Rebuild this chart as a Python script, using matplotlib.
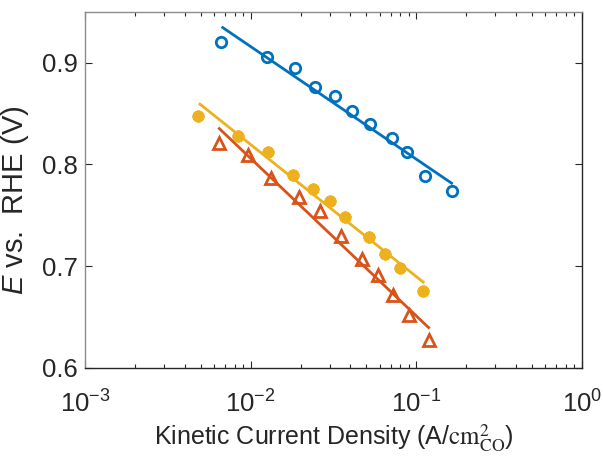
"""Tafel-style plot: E vs. RHE against kinetic current density (log x)."""
import matplotlib
matplotlib.use("Agg")
import matplotlib.pyplot as plt
from matplotlib.ticker import LogLocator, FixedLocator

plt.rcParams["font.family"] = ["Liberation Sans", "DejaVu Sans"]
plt.rcParams["mathtext.fontset"] = "custom"
plt.rcParams["mathtext.rm"] = "Liberation Sans"
plt.rcParams["mathtext.it"] = "Liberation Sans:italic"
plt.rcParams["xtick.direction"] = "in"
plt.rcParams["ytick.direction"] = "in"

# ---- Data ----
BLUE_J = [0.00665, 0.01255, 0.01845, 0.02434, 0.03228, 0.04107,
          0.05254, 0.07129, 0.08745, 0.1128, 0.1642]
BLUE_E = [0.920, 0.9055, 0.8953, 0.876, 0.8675, 0.853,
          0.8396, 0.8259, 0.8127, 0.789, 0.7737]
BLUE_FIT_J = [0.00678, 0.1634]
BLUE_FIT_E = [0.9346, 0.7816]

YELLOW_J = [0.004843, 0.008386, 0.01273, 0.01813, 0.02394, 0.0302,
            0.03736, 0.0516, 0.06486, 0.07967, 0.1102]
YELLOW_E = [0.8475, 0.8281, 0.8122, 0.7895, 0.7757, 0.7645,
            0.7488, 0.7291, 0.7121, 0.6986, 0.6758]
YELLOW_FIT_J = [0.004944, 0.1102]
YELLOW_FIT_E = [0.8593, 0.6843]

ORANGE_J = [0.006467, 0.009596, 0.01321, 0.01957, 0.02633, 0.0351,
            0.04718, 0.0587, 0.07262, 0.09066, 0.1187]
ORANGE_E = [0.8209, 0.8091, 0.7871, 0.7684, 0.7547, 0.7301,
            0.7069, 0.6911, 0.6718, 0.6521, 0.6275]
ORANGE_FIT_J = [0.006467, 0.1187]
ORANGE_FIT_E = [0.8353, 0.6396]

Y_TICKS = [0.6, 0.7, 0.8, 0.9]

# ---- Style ----
C_BLUE = "#0072BD"
C_ORANGE = "#D95319"
C_YELLOW = "#EDB120"
AX_DARK = "#262626"

fig = plt.figure(figsize=(6.03, 4.57), dpi=100)
ax = fig.add_axes([0.141, 0.195, 0.824, 0.779])

# fit lines
ax.plot(BLUE_FIT_J, BLUE_FIT_E, color=C_BLUE, lw=2.0, zorder=2)
ax.plot(YELLOW_FIT_J, YELLOW_FIT_E, color=C_YELLOW, lw=2.0, zorder=2)
ax.plot(ORANGE_FIT_J, ORANGE_FIT_E, color=C_ORANGE, lw=2.0, zorder=2)

# markers
ax.plot(BLUE_J, BLUE_E, ls="none", marker="o", ms=7.5, mew=2.0,
        mfc="none", mec=C_BLUE, zorder=3)
ax.plot(YELLOW_J, YELLOW_E, ls="none", marker=(8, 2, 0), ms=8.5, mew=2.6,
        mfc=C_YELLOW, mec=C_YELLOW, zorder=3)
ax.plot(ORANGE_J, ORANGE_E, ls="none", marker="^", ms=8.5, mew=2.0,
        mfc="none", mec=C_ORANGE, zorder=3)

ax.set_xscale("log")
ax.set_xlim(1e-3, 1e0)
ax.set_ylim(0.6, 0.95)
ax.yaxis.set_major_locator(FixedLocator(Y_TICKS))
ax.xaxis.set_major_locator(LogLocator(base=10, numticks=10))
ax.xaxis.set_minor_locator(LogLocator(base=10, subs=range(2, 10), numticks=20))

ax.tick_params(axis="both", which="major", direction="in", top=True,
               right=True, colors=AX_DARK, labelsize=18.5, width=0.8,
               length=5)
ax.tick_params(axis="both", which="minor", direction="in", top=True,
               right=True, colors=AX_DARK, width=0.8, length=3)
ax.tick_params(axis="y", which="major", direction="in", pad=5)
ax.tick_params(axis="x", which="major", direction="in", pad=16)

for side in ["left", "top"]:
    ax.spines[side].set_color("#8c8c8c")
for side in ["right", "bottom"]:
    ax.spines[side].set_color(AX_DARK)
for s in ax.spines.values():
    s.set_linewidth(1.0)

ax.set_ylabel(r"$E$ vs.  RHE (V)", fontsize=21, color=AX_DARK)
ax.yaxis.set_label_coords(-0.108, 0.47)
ax.set_xlabel(r"Kinetic Current Density (A/$\mathrm{cm}^2_{\mathrm{CO}}$)",
              fontsize=18, color=AX_DARK, labelpad=4,
              math_fontfamily="stix")

fig.savefig("out.png", dpi=100, facecolor="white")
plt.close(fig)
